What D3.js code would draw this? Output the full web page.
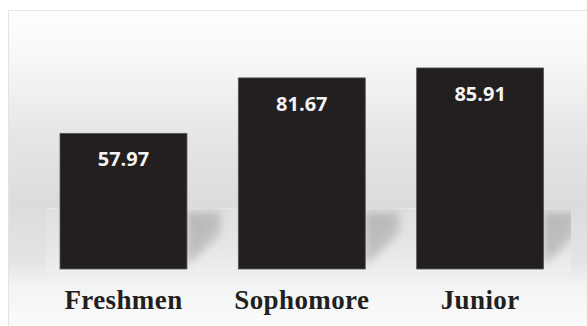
<!DOCTYPE html>
<html>
<head>
<meta charset="utf-8">
<script src="https://cdn.jsdelivr.net/npm/d3@7"></script>
<style>
  html, body { margin: 0; padding: 0; background: #fff; }
  svg { display: block; }
</style>
</head>
<body>
<script>
const categories = ['Freshmen', 'Sophomore', 'Junior'];
const values = [57.97, 81.67, 85.91];

const W = 587, H = 326;
const base = 269;        // bar baseline
const floorTop = 208;    // top of the "floor" plane

const svg = d3.select('body').append('svg')
  .attr('width', W)
  .attr('height', H);

const defs = svg.append('defs');

// backdrop gradient (wall -> floor -> label strip)
const bg = defs.append('linearGradient')
  .attr('id', 'bg').attr('gradientUnits', 'userSpaceOnUse')
  .attr('x1', 0).attr('y1', 10).attr('x2', 0).attr('y2', H);
[[10, '#fefefe'], [60, '#f7f7f7'], [140, '#e4e5e6'], [205, '#dadcdd'],
 [262, '#e3e4e5'], [285, '#f2f3f3'], [326, '#fbfbfb']].forEach(s => {
  bg.append('stop').attr('offset', (s[0] - 10) / (H - 10)).attr('stop-color', s[1]);
});

const fl = defs.append('linearGradient')
  .attr('id', 'floor').attr('x1', 0).attr('y1', 0).attr('x2', 0).attr('y2', 1);
fl.append('stop').attr('offset', 0).attr('stop-color', '#dfe0e1');
fl.append('stop').attr('offset', 0.6).attr('stop-color', '#e5e6e7');
fl.append('stop').attr('offset', 1).attr('stop-color', '#eeefef');

const sh = defs.append('linearGradient')
  .attr('id', 'shade').attr('x1', 0).attr('y1', 0).attr('x2', 1).attr('y2', 1);
sh.append('stop').attr('offset', 0).attr('stop-color', '#a9abad');
sh.append('stop').attr('offset', 0.55).attr('stop-color', '#b4b6b8');
sh.append('stop').attr('offset', 1).attr('stop-color', '#e0e1e2');

defs.append('filter').attr('id', 'blur')
  .attr('x', -0.5).attr('y', -0.5).attr('width', 2).attr('height', 2)
  .append('feGaussianBlur').attr('stdDeviation', 4);

defs.append('clipPath').attr('id', 'floorClip')
  .append('rect').attr('x', 46).attr('y', floorTop).attr('width', 525).attr('height', base - floorTop + 4);

// frame
svg.append('rect')
  .attr('x', 8.5).attr('y', 10.5)
  .attr('width', 620).attr('height', 340)
  .attr('fill', 'url(#bg)')
  .attr('stroke', '#e2e3e3');

// floor plane
svg.append('rect')
  .attr('x', 46).attr('y', floorTop)
  .attr('width', 525).attr('height', base - floorTop + 4)
  .attr('fill', 'url(#floor)');
svg.append('line')
  .attr('x1', 46).attr('x2', 571).attr('y1', floorTop + 0.5).attr('y2', floorTop + 0.5)
  .attr('stroke', '#e6e7e7');

const x = d3.scaleBand()
  .domain(categories)
  .range([60, 543.6])
  .paddingInner(0.288)
  .paddingOuter(0);

const y = d3.scaleLinear()
  .domain([0, 100])
  .range([base, 35]);

const data = categories.map((c, i) => ({ cat: c, val: values[i] }));

// shadows cast to the right of each bar
svg.append('g')
  .attr('clip-path', 'url(#floorClip)')
  .selectAll('path')
  .data(data)
  .enter()
  .append('path')
  .attr('d', d => {
    const r = x(d.cat) + x.bandwidth();
    return 'M' + r + ',' + (floorTop + 4) +
      'L' + (r + 34) + ',' + (floorTop + 4) +
      'L' + (r + 34) + ',' + (floorTop + 26) +
      'L' + r + ',' + (base - 4) + 'Z';
  })
  .attr('fill', 'url(#shade)')
  .attr('opacity', 0.8)
  .attr('filter', 'url(#blur)');

// bars
svg.append('g')
  .selectAll('rect')
  .data(data)
  .enter()
  .append('rect')
  .attr('x', d => x(d.cat))
  .attr('y', d => y(d.val))
  .attr('width', x.bandwidth())
  .attr('height', d => y(0) - y(d.val))
  .attr('fill', '#231f20')
  .attr('stroke', '#5a5859')
  .attr('stroke-width', 0.8);

// value labels
svg.append('g')
  .selectAll('text')
  .data(data)
  .enter()
  .append('text')
  .attr('x', d => x(d.cat) + x.bandwidth() / 2)
  .attr('y', d => y(d.val) + 33)
  .attr('text-anchor', 'middle')
  .attr('font-family', '"Open Sans", sans-serif')
  .attr('font-weight', 700)
  .attr('font-size', 20)
  .attr('fill', '#f4f4f4')
  .text(d => d.val.toFixed(2));

// category labels
svg.append('g')
  .selectAll('text')
  .data(data)
  .enter()
  .append('text')
  .attr('x', d => x(d.cat) + x.bandwidth() / 2)
  .attr('y', 309)
  .attr('text-anchor', 'middle')
  .attr('font-family', '"Liberation Serif", "Times New Roman", serif')
  .attr('font-weight', 700)
  .attr('font-size', 27)
  .attr('letter-spacing', 0.4)
  .attr('fill', '#231f20')
  .text(d => d.cat);
</script>
</body>
</html>
